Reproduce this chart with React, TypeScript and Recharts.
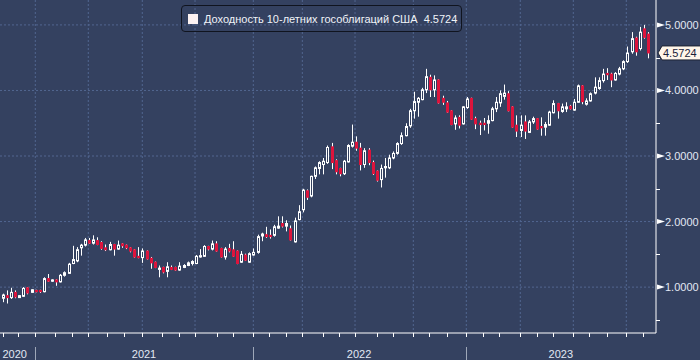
import React from 'react';
import { ComposedChart, Bar, XAxis, YAxis, CartesianGrid } from 'recharts';

// weekly candles, 30 Oct 2020 .. 3 Nov 2023
const opens = [
  0.83, 0.87, 0.84, 0.92, 0.84, 0.86, 0.99, 0.92, 0.95, 0.95,
  0.93, 1.13, 1.09, 1.11, 1.08, 1.18, 1.21, 1.36, 1.40, 1.60,
  1.64, 1.71, 1.67, 1.71, 1.68, 1.60, 1.57, 1.65, 1.58, 1.66,
  1.64, 1.60, 1.57, 1.47, 1.45, 1.55, 1.44, 1.38, 1.27, 1.30,
  1.24, 1.30, 1.30, 1.26, 1.30, 1.33, 1.36, 1.36, 1.46, 1.47,
  1.62, 1.58, 1.66, 1.59, 1.46, 1.59, 1.57, 1.55, 1.38, 1.49,
  1.38, 1.49, 1.53, 1.78, 1.80, 1.79, 1.79, 1.90, 1.97, 1.93,
  1.89, 1.69, 2.03, 2.18, 2.47, 2.39, 2.69, 2.81, 2.87, 2.90,
  3.14, 2.93, 2.81, 2.73, 2.91, 3.15, 3.21, 3.12, 2.87, 3.09,
  2.90, 2.77, 2.64, 2.82, 2.82, 2.97, 3.04, 3.19, 3.31, 3.46,
  3.69, 3.82, 3.86, 4.01, 4.20, 4.01, 4.16, 3.88, 3.81, 3.69,
  3.49, 3.59, 3.49, 3.74, 3.88, 3.57, 3.50, 3.50, 3.50, 3.54,
  3.72, 3.81, 3.91, 3.95, 3.75, 3.47, 3.39, 3.52, 3.36, 3.52,
  3.57, 3.45, 3.44, 3.47, 3.66, 3.80, 3.68, 3.72, 3.76, 3.70,
  3.82, 4.07, 3.79, 3.84, 3.96, 4.03, 4.15, 4.26, 4.25, 4.16,
  4.25, 4.33, 4.44, 4.59, 4.80, 4.64, 4.94, 4.86,
];
const highs = [
  0.90, 0.95, 0.99, 0.95, 0.88, 1.00, 1.00, 0.97, 0.96, 0.96,
  1.15, 1.20, 1.12, 1.12, 1.20, 1.24, 1.37, 1.63, 1.61, 1.66,
  1.75, 1.75, 1.79, 1.76, 1.70, 1.65, 1.69, 1.66, 1.71, 1.67,
  1.65, 1.61, 1.58, 1.61, 1.59, 1.56, 1.46, 1.39, 1.33, 1.31,
  1.38, 1.33, 1.31, 1.38, 1.35, 1.39, 1.41, 1.49, 1.58, 1.64,
  1.63, 1.71, 1.70, 1.60, 1.61, 1.66, 1.70, 1.56, 1.55, 1.51,
  1.53, 1.59, 1.80, 1.83, 1.92, 1.88, 1.95, 2.08, 2.08, 2.02,
  1.94, 2.06, 2.25, 2.50, 2.49, 2.70, 2.84, 2.92, 2.97, 3.16,
  3.20, 2.95, 2.82, 2.94, 3.18, 3.48, 3.30, 3.20, 3.12, 3.12,
  2.93, 2.78, 2.87, 2.97, 3.02, 3.07, 3.21, 3.36, 3.50, 3.72,
  3.98, 3.90, 4.04, 4.33, 4.24, 4.23, 4.17, 3.92, 3.84, 3.70,
  3.62, 3.62, 3.76, 3.90, 3.89, 3.60, 3.54, 3.58, 3.62, 3.75,
  3.90, 4.00, 4.09, 3.99, 3.76, 3.62, 3.62, 3.62, 3.55, 3.60,
  3.58, 3.59, 3.52, 3.69, 3.85, 3.81, 3.80, 3.82, 3.78, 3.87,
  4.09, 4.08, 3.88, 3.97, 4.20, 4.20, 4.33, 4.34, 4.27, 4.28,
  4.36, 4.46, 4.67, 4.89, 4.82, 4.97, 5.00, 4.89,
];
const lows = [
  0.77, 0.75, 0.82, 0.83, 0.84, 0.85, 0.89, 0.91, 0.92, 0.91,
  0.92, 1.08, 1.08, 1.02, 1.07, 1.16, 1.20, 1.35, 1.38, 1.48,
  1.62, 1.66, 1.65, 1.64, 1.57, 1.55, 1.56, 1.48, 1.57, 1.60,
  1.58, 1.53, 1.45, 1.44, 1.37, 1.42, 1.28, 1.29, 1.15, 1.21,
  1.15, 1.26, 1.25, 1.25, 1.29, 1.32, 1.33, 1.35, 1.45, 1.46,
  1.56, 1.56, 1.54, 1.45, 1.42, 1.53, 1.46, 1.35, 1.37, 1.40,
  1.37, 1.48, 1.51, 1.70, 1.75, 1.74, 1.77, 1.89, 1.91, 1.85,
  1.71, 1.68, 2.02, 2.14, 2.33, 2.37, 2.65, 2.72, 2.72, 2.88,
  2.80, 2.72, 2.69, 2.71, 2.90, 3.13, 3.08, 2.78, 2.82, 2.86,
  2.71, 2.61, 2.52, 2.67, 2.80, 2.95, 3.02, 3.17, 3.30, 3.43,
  3.57, 3.60, 3.85, 3.96, 3.90, 3.90, 3.80, 3.78, 3.66, 3.47,
  3.40, 3.42, 3.48, 3.72, 3.55, 3.41, 3.32, 3.39, 3.34, 3.53,
  3.67, 3.75, 3.86, 3.68, 3.43, 3.29, 3.29, 3.26, 3.35, 3.49,
  3.40, 3.31, 3.31, 3.46, 3.65, 3.57, 3.66, 3.67, 3.71, 3.69,
  3.81, 3.79, 3.77, 3.83, 3.94, 4.01, 4.12, 4.16, 4.05, 4.15,
  4.23, 4.31, 4.42, 4.56, 4.53, 4.61, 4.79, 4.49,
];
const closes = [
  0.88, 0.84, 0.92, 0.85, 0.87, 0.98, 0.91, 0.96, 0.93, 0.93,
  1.13, 1.09, 1.11, 1.08, 1.18, 1.22, 1.35, 1.42, 1.57, 1.64,
  1.72, 1.67, 1.72, 1.65, 1.59, 1.57, 1.65, 1.58, 1.64, 1.63,
  1.60, 1.55, 1.46, 1.45, 1.55, 1.43, 1.37, 1.30, 1.29, 1.23,
  1.31, 1.27, 1.26, 1.32, 1.33, 1.37, 1.39, 1.47, 1.48, 1.62,
  1.58, 1.66, 1.55, 1.46, 1.58, 1.55, 1.47, 1.36, 1.50, 1.41,
  1.51, 1.53, 1.77, 1.81, 1.77, 1.77, 1.92, 1.93, 1.93, 1.97,
  1.72, 2.01, 2.15, 2.48, 2.37, 2.69, 2.82, 2.90, 2.92, 3.13,
  2.90, 2.76, 2.73, 2.92, 3.16, 3.21, 3.12, 2.87, 3.08, 2.90,
  2.73, 2.63, 2.81, 2.84, 2.97, 3.04, 3.19, 3.31, 3.45, 3.69,
  3.83, 3.88, 4.01, 4.21, 4.01, 4.16, 3.81, 3.82, 3.67, 3.48,
  3.58, 3.47, 3.75, 3.87, 3.56, 3.49, 3.48, 3.48, 3.54, 3.72,
  3.82, 3.95, 3.96, 3.69, 3.44, 3.38, 3.47, 3.38, 3.52, 3.57,
  3.41, 3.43, 3.48, 3.67, 3.80, 3.69, 3.75, 3.75, 3.72, 3.82,
  4.07, 3.83, 3.84, 3.95, 4.05, 4.15, 4.25, 4.24, 4.16, 4.26,
  4.33, 4.44, 4.57, 4.79, 4.59, 4.89, 4.81, 4.5724,
];

// axis positions in week units (0 = first candle)
const monthTicks = [
  0.1, 3.89, 8.03, 12.82, 17.03, 20.92, 25.4, 29.68, 34.06, 38.93, 43.07, 46.89,
  52.17, 56.2, 61.07, 64.96, 68.95, 72.99, 77.96, 81.99, 85.82, 91.09, 94.99, 100.0,
  103.89, 108.13, 112.9, 117.03, 120.93, 126.03, 130.02, 133.92, 138.93, 142.82, 147.06, 151.82, 155.96,
];
const quarterTicks = [8.03, 20.92, 34.06, 46.89, 61.07, 73.0, 85.82, 100.0, 112.9, 126.03, 138.93, 151.82];
const yearStarts = [8.03, 61.07, 112.9];
const yearLabels = ['2020', '2021', '2022', '2023'];
const yearLabelPos = [3.02, 34.48, 86.8, 135.9];

const yMajor = [1, 2, 3, 4, 5];
const yMinor = [0.5, 1.5, 2.5, 3.5, 4.5];
const lastValue = 4.5724;
const seriesName = 'Доходность 10-летних гособлигаций США';

const BG = '#344160';
const RED = '#dc143c';
const GRID = '#526690';
const TXT = '#e2e8f4';
const FONT = '"Liberation Sans", Arial, sans-serif';

const data = closes.map((c, i) => ({ i, open: opens[i], high: highs[i], low: lows[i], close: c }));

const Candle = (props: any) => {
  const { x, y, width, height, payload } = props;
  if (x == null || y == null || !payload) return null;
  const { open, close, high, low } = payload;
  const cx = Math.round(x + width / 2) + 0.5;
  const span = high - low || 1;
  const toY = (v: number) => y + ((high - v) / span) * height;
  const yo = toY(open);
  const yc = toY(close);
  const top = Math.min(yo, yc);
  const bh = Math.max(Math.abs(yc - yo), 1);
  const up = close >= open;
  return (
    <g>
      <line x1={cx} x2={cx} y1={y} y2={y + height} stroke="#ffffff" strokeWidth={1} />
      {up ? (
        <rect x={cx - 1} y={top} width={2} height={bh} fill={BG} stroke="#ffffff" strokeWidth={1} />
      ) : (
        <rect x={cx - 1.5} y={top - 0.5} width={3} height={bh + 1} fill={RED} />
      )}
    </g>
  );
};

const XTick = (props: any) => {
  const { x, y, payload } = props;
  const v = payload.value;
  const li = yearLabelPos.indexOf(v);
  if (li >= 0) {
    return (
      <text x={x} y={y + 25} textAnchor="middle" fill={TXT} fontSize={11} fontFamily={FONT}>
        {yearLabels[li]}
      </text>
    );
  }
  const px = Math.round(x) + 0.5;
  return (
    <g>
      <line x1={px} x2={px} y1={y} y2={y + 4} stroke="#ffffff" />
      {yearStarts.includes(v) && <line x1={px} x2={px} y1={y + 14} y2={y + 27} stroke="#9ea7b8" />}
    </g>
  );
};

const YTick = (props: any) => {
  const { x, y, payload } = props;
  const v = payload.value;
  if (v === lastValue) {
    return (
      <g>
        <polygon
          points={`${x + 2},${y} ${x + 6},${y - 7} ${x + 50},${y - 7} ${x + 50},${y + 7} ${x + 6},${y + 7}`}
          fill="#fff6ea"
          stroke="#1c2233"
        />
        <text x={x + 7} y={y + 4} fill="#1a2238" fontSize={11} fontFamily={FONT}>
          {v.toFixed(4)}
        </text>
      </g>
    );
  }
  if (yMajor.includes(v)) {
    return (
      <g>
        <polygon points={`${x + 1},${y - 2.5} ${x + 9},${y} ${x + 1},${y + 2.5}`} fill="#ffffff" />
        <text x={x + 9} y={y + 4} fill={TXT} fontSize={11} fontFamily={FONT}>
          {v.toFixed(4)}
        </text>
      </g>
    );
  }
  return <line x1={x} x2={x + 4} y1={Math.round(y) + 0.5} y2={Math.round(y) + 0.5} stroke="#ffffff" />;
};

export default function App() {
  return (
    <div style={{ position: 'absolute', left: 0, top: 0, width: 700, height: 360, background: BG }}>
      <ComposedChart width={700} height={360} data={data} margin={{ top: 0, right: 0, bottom: 0, left: 0 }}>
        <CartesianGrid
          stroke={GRID}
          strokeDasharray="2 2"
          horizontalValues={yMajor}
          verticalValues={quarterTicks}
        />
        <XAxis
          dataKey="i"
          type="number"
          domain={[-0.56, 159.05]}
          allowDataOverflow
          ticks={[...monthTicks, ...yearLabelPos]}
          interval={0}
          tickSize={0}
          tickMargin={0}
          tickLine={false}
          axisLine={{ stroke: '#ffffff' }}
          height={27}
          tick={<XTick />}
        />
        <YAxis
          orientation="right"
          type="number"
          domain={[0.3, 5.38]}
          allowDataOverflow
          ticks={[...yMinor, ...yMajor, lastValue]}
          interval={0}
          tickSize={0}
          tickMargin={0}
          tickLine={false}
          axisLine={{ stroke: '#ffffff' }}
          width={44}
          tick={<YTick />}
        />
        <Bar
          dataKey={(d: any) => [d.low, d.high]}
          barSize={3}
          shape={(p: any) => <Candle {...p} />}
          isAnimationActive={false}
        />
      </ComposedChart>
      <div
        style={{
          position: 'absolute',
          left: 181,
          top: 5,
          width: 279,
          height: 25,
          border: '1px solid #10141f',
          borderRadius: 4,
          display: 'flex',
          alignItems: 'center',
          fontFamily: FONT,
          fontSize: 11,
          color: '#f0f3f8',
          whiteSpace: 'pre',
        }}
      >
        <span style={{ display: 'inline-block', width: 10, height: 10, background: '#fdf2f2', marginLeft: 6, marginRight: 6 }} />
        <span>{`${seriesName}  ${lastValue.toFixed(4)}`}</span>
      </div>
    </div>
  );
}
